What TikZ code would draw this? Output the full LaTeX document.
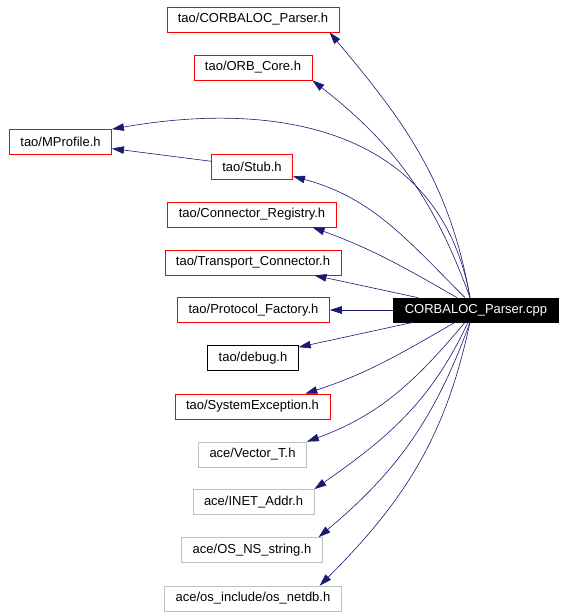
\documentclass[tikz,border=0pt]{standalone}
\usepackage{fontspec}
\setmainfont{Liberation Sans}
\usetikzlibrary{arrows.meta}
\definecolor{edgeblue}{RGB}{25,25,112}
\definecolor{extgray}{RGB}{191,191,191}
\tikzset{
  file/.style = {draw, rectangle, inner xsep = 11pt, inner ysep = 0pt, minimum height = 25pt,
                 font = \fontsize{13}{15}\selectfont, line width = 0.7pt},
  redfile/.style = {file, draw = red},
  ownfile/.style = {file, draw = black},
  extfile/.style = {file, draw = extgray},
  mainfile/.style = {file, fill = black, text = white, draw = black, minimum height = 24pt},
  dep/.style = {draw = edgeblue, line width = 0.6pt, -{Triangle[length = 12pt, width = 7.5pt]}}
}
\begin{document}
\begin{tikzpicture}[x = 1pt, y = 1pt]
\useasboundingbox (0,0) rectangle (565,-616);
% the file itself
\node[mainfile] (cpp) at (476,-310) {CORBALOC\_Parser.cpp};
% included headers
\node[redfile] (parserh) at (253,-19.5) {tao/CORBALOC\_Parser.h};
\node[redfile] (orbcore) at (253,-67.5) {tao/ORB\_Core.h};
\node[redfile] (mprofile) at (60.5,-142) {tao/MProfile.h};
\node[redfile] (stub) at (252,-166.5) {tao/Stub.h};
\node[redfile] (connreg) at (252,-214.5) {tao/Connector\_Registry.h};
\node[redfile] (transport) at (253,-262.5) {tao/Transport\_Connector.h};
\node[redfile] (protocol) at (253.5,-310) {tao/Protocol\_Factory.h};
\node[ownfile] (debug) at (253,-358) {tao/debug.h};
\node[redfile] (sysexc) at (252.5,-406.5) {tao/SystemException.h};
\node[extfile] (vector) at (252.5,-454.5) {ace/Vector\_T.h};
\node[extfile] (inet) at (253.5,-502) {ace/INET\_Addr.h};
\node[extfile] (osns) at (252,-550) {ace/OS\_NS\_string.h};
\node[extfile] (netdb) at (253,-598.5) {ace/os\_include/os\_netdb.h};
\coordinate (ctop) at ([xshift = -6]cpp.north);
\coordinate (cbot) at ([xshift = -6]cpp.south);
% edges upwards
\draw[dep] (ctop) to[out = 100, in = -50] ([xshift = -10]parserh.south east);
\draw[dep] (ctop) to[out = 110, in = -38] (orbcore.south east);
\draw[dep] (ctop) to[out = 100, in = 10, looseness = 1.1] (mprofile.north east);
\draw[dep] (stub) -- (mprofile);
\draw[dep] ([xshift = -5]ctop) to[out = 135, in = -15] ([yshift = 3]stub.south east);
\draw[dep] ([xshift = -13]ctop) to[out = 150, in = -20] ([xshift = -24]connreg.south east);
\draw[dep] ([xshift = -52]ctop) -- ([xshift = -27]transport.south east);
\draw[dep] (cpp) -- (protocol);
% edges downwards
\draw[dep] ([xshift = -57]cbot) -- ([yshift = -2]debug.north east);
\draw[dep] ([xshift = -15]cbot) to[out = -150, in = 18] ([xshift = -25]sysexc.north east);
\draw[dep] ([xshift = -5]cbot) to[out = -130, in = 20] (vector.north east);
\draw[dep] ([xshift = -2]cbot) to[out = -115, in = 35] (inet.north east);
\draw[dep] (cbot) to[out = -110, in = 40] ([xshift = -4]osns.north east);
\draw[dep] (cbot) to[out = -102, in = 45] ([xshift = -22]netdb.north east);
\end{tikzpicture}
\end{document}
